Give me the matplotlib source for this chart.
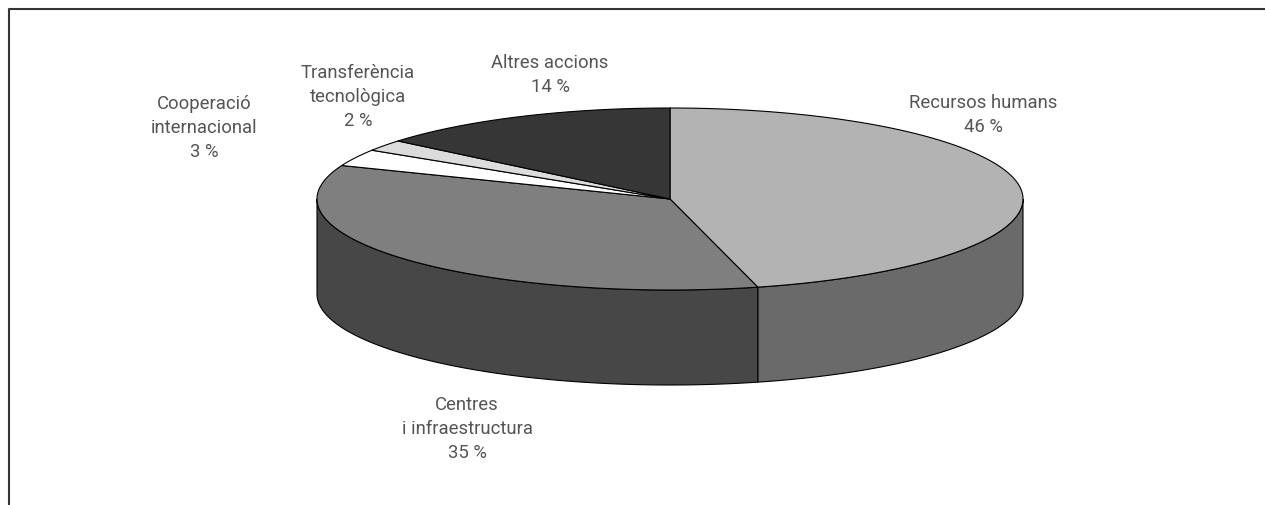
import numpy as np
import matplotlib
matplotlib.use("Agg")
import matplotlib.pyplot as plt
from matplotlib.patches import Polygon

# budget shares, clockwise from 12 o'clock
labels = ["Recursos humans\n46 %",
          "Centres\ni infraestructura\n35 %",
          "Cooperació\ninternacional\n3 %",
          "Transferència\ntecnològica\n2 %",
          "Altres accions\n14 %"]
values = [46, 35, 3, 2, 14]
top_colors = ["#b3b3b3", "#7f7f7f", "#ffffff", "#dcdcdc", "#363636"]
side_colors = ["#6a6a6a", "#474747", "#d0d0d0", "#b0b0b0", "#222222"]
label_pos = [(983, 115), (467, 429), (204, 128), (358, 97), (550, 75)]

plt.rcParams['font.family'] = ['Roboto', 'DejaVu Sans']

fig = plt.figure(figsize=(12.65, 5.05), dpi=100)
ax = fig.add_axes([0, 0, 1, 1])
ax.set_xlim(0, 1265)
ax.set_ylim(505, 0)
ax.axis("off")

# frame
ax.plot([8.5, 8.5, 1265], [505, 8.5, 8.5], color="#333333", lw=1.5, solid_capstyle="butt")

cx, cy, rx, ry, depth = 670, 199, 353, 91, 95


def pt(theta, dy=0):
    t = np.radians(theta)
    return cx + rx * np.cos(t), cy - ry * np.sin(t) + dy


fr = np.array(values, dtype=float) / sum(values)
ends = 90 - 360 * np.cumsum(fr)
starts = np.r_[90, ends[:-1]]

# front walls (only the lower half of the ellipse is visible)
for a, b, col in zip(starts, ends, side_colors):
    lo, hi = max(b, -180), min(a, 0)
    if lo >= hi:
        continue
    th = np.linspace(hi, lo, 120)
    top = [pt(t) for t in th]
    bot = [pt(t, depth) for t in th[::-1]]
    ax.add_patch(Polygon(top + bot, closed=True, fc=col, ec="black", lw=0.8))

# top faces
for a, b, col in zip(starts, ends, top_colors):
    th = np.linspace(a, b, 200)
    poly = [(cx, cy)] + [pt(t) for t in th]
    ax.add_patch(Polygon(poly, closed=True, fc=col, ec="black", lw=0.8, joinstyle="round"))

for txt, (x, y) in zip(labels, label_pos):
    ax.text(x, y, txt, ha="center", va="center", fontsize=13.3,
            fontweight="normal", color="#555555", linespacing=1.42)

fig.savefig("out.png", dpi=100, facecolor="white")
